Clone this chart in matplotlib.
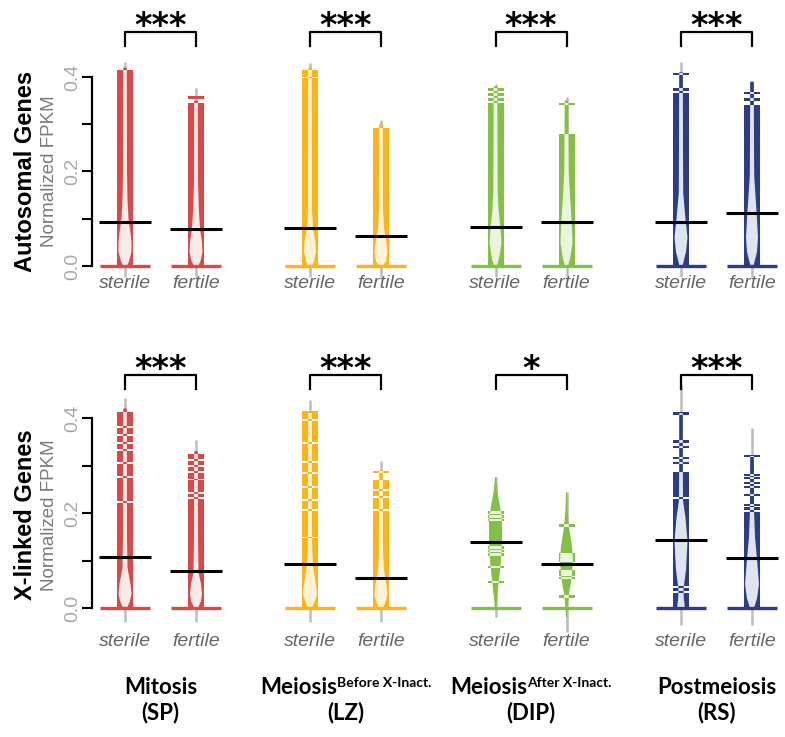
import matplotlib.pyplot as plt
from matplotlib.patches import Polygon, Rectangle
from matplotlib.path import Path

W, H = 785, 737

stage_names = ["Mitosis", "Meiosis", "Meiosis", "Postmeiosis"]
stage_sup = ["", "Before X-Inact.", "After X-Inact.", ""]
stage_cells = ["(SP)", "(LZ)", "(DIP)", "(RS)"]
groups = ["sterile", "fertile"]
row_titles = ["Autosomal Genes", "X-linked Genes"]
stars = [["***", "***", "***", "***"], ["***", "***", "*", "***"]]

bean_colors = ["#d84a4a", "#fbb518", "#86bf48", "#2d3d83"]
pale_colors = ["#fbeaea", "#fdf2d8", "#eaf4df", "#dfe4f1"]

# every list below: [row][stage] -> (sterile, fertile)
medians = [
    [(0.093, 0.078), (0.080, 0.063), (0.083, 0.094), (0.093, 0.112)],
    [(0.107, 0.078), (0.093, 0.063), (0.139, 0.093), (0.143, 0.105)],
]

whisker = [
    [((-0.023, 0.432), (-0.023, 0.377)), ((-0.023, 0.430), (-0.023, 0.309)),
     ((-0.023, 0.385), (-0.023, 0.358)), ((-0.023, 0.432), (-0.023, 0.387))],
    [((-0.030, 0.442), (-0.030, 0.354)), ((-0.030, 0.438), (-0.030, 0.310)),
     ((-0.019, 0.276), (-0.050, 0.244)), ((-0.035, 0.470), (-0.035, 0.379))],
]

strip_top = [
    [(0.415, 0.345), (0.414, 0.292), (0.345, 0.280), (0.377, 0.340)],
    [(0.413, 0.324), (0.414, 0.270), (0.0, 0.0), (0.286, 0.202)],
]

strip_gaps = [
    [([], []), ([0.3985], []), ([], []), ([0.368], [])],
    [([0.223, 0.276, 0.305, 0.333, 0.347, 0.364, 0.381],
      [0.232, 0.242, 0.270, 0.286, 0.299, 0.312]),
     ([0.149, 0.206, 0.227, 0.255, 0.284, 0.307, 0.347, 0.396],
      [0.206, 0.234, 0.248]),
     ([], []),
     ([0.034, 0.044, 0.232], [])],
]

bean_lines = [
    [([], [0.357]), ([], []), ([0.352, 0.363, 0.373], [0.343]), ([0.406], [0.353, 0.366])],
    [([], []), ([], [0.286]),
     ([0.201, 0.193, 0.185, 0.128, 0.120, 0.112, 0.086, 0.055],
      [0.173, 0.113, 0.106, 0.100, 0.077, 0.070, 0.063, 0.024]),
     ([0.410, 0.350, 0.339, 0.316, 0.305],
      [0.320, 0.280, 0.274, 0.263, 0.255, 0.238, 0.217, 0.210])],
]

# density outline: (value, half width in px)
density = [
    [([(0, 2), (0.01, 4), (0.03, 6.5), (0.05, 6.5), (0.07, 5.5), (0.10, 3.5), (0.14, 2.5), (0.20, 2), (0.42, 1.8)],
      [(0, 2), (0.01, 4.5), (0.03, 6.5), (0.05, 6), (0.08, 4), (0.12, 2.8), (0.18, 2), (0.35, 1.8)]),
     ([(0, 2), (0.01, 4), (0.03, 6), (0.05, 5.5), (0.08, 3), (0.12, 2), (0.42, 1.8)],
      [(0, 2), (0.01, 5), (0.03, 6.5), (0.05, 5.5), (0.08, 3), (0.12, 2), (0.30, 1.8)]),
     ([(0, 1.5), (0.02, 4), (0.05, 6), (0.08, 5), (0.12, 3), (0.16, 2.2), (0.25, 2), (0.38, 1.8)],
      [(0, 1.5), (0.02, 4), (0.05, 6), (0.10, 5), (0.15, 3.5), (0.20, 2.2), (0.28, 2), (0.35, 1.8)]),
     ([(0, 1.5), (0.03, 5), (0.06, 6.5), (0.10, 4.5), (0.155, 2.2), (0.25, 2), (0.41, 1.8)],
      [(0, 1.5), (0.03, 5), (0.06, 6), (0.10, 5), (0.19, 2.2), (0.25, 2), (0.39, 1.8)])],
    [([(0, 2), (0.015, 5), (0.03, 6.5), (0.05, 5.5), (0.085, 2.5), (0.15, 2), (0.42, 1.8)],
      [(0, 2), (0.015, 5), (0.03, 6), (0.05, 5), (0.075, 2.5), (0.15, 2), (0.33, 1.8)]),
     ([(0, 2), (0.015, 5), (0.03, 7), (0.05, 6), (0.08, 3.5), (0.12, 2.3), (0.16, 2), (0.41, 1.8)],
      [(0, 2), (0.015, 5), (0.03, 6.5), (0.05, 5.5), (0.08, 3), (0.12, 2), (0.29, 1.8)]),
     ([(-0.005, 0.5), (0.02, 1.5), (0.06, 3.5), (0.10, 5.5), (0.14, 6.5), (0.19, 6.5), (0.22, 4), (0.25, 1.5), (0.276, 0.5)],
      [(-0.02, 0.5), (0.0, 1), (0.03, 2.5), (0.06, 5), (0.10, 6.5), (0.13, 5.5), (0.17, 2.5), (0.21, 1), (0.244, 0.5)]),
     ([(0, 4), (0.02, 2.8), (0.04, 2.5), (0.08, 5), (0.14, 6.5), (0.19, 4.5), (0.227, 2), (0.30, 1.8), (0.41, 1.8)],
      [(0, 2), (0.02, 5), (0.05, 7), (0.09, 5.5), (0.15, 3), (0.206, 2), (0.32, 1.8)])],
]

row_zero = [266, 608]      # pixel row of value 0
row_scale = [472.5, 475]   # pixels per unit
row_span = [(10, 300), (350, 640)]
col_center = [160.5, 345.5, 531, 716.5]
bean_dx = 35.5
strip_hw = 8
gap_h = 0.0015
line_h = 0.0028


def draw_bean(ax, x, color, pale, top, gaps, lines, prof, rng, med):
    ax.vlines(x, rng[0], rng[1], color="#bdbdbd", lw=1.8, zorder=1)
    outline = [(x - w, y) for y, w in prof] + [(x + w, y) for y, w in prof[::-1]]
    ax.add_patch(Polygon(outline, closed=True, fc=color, ec="none", zorder=2))

    segs = []
    if top > 0:
        lo = 0.0
        for g in sorted(gaps):
            segs.append((lo, g - gap_h))
            lo = g + gap_h
        segs.append((lo, top))
    for v in lines:
        segs.append((v - line_h, v + line_h))

    paths = []
    for lo, hi in segs:
        ax.add_patch(Rectangle((x - strip_hw, lo), 2 * strip_hw, hi - lo,
                               fc=color, ec="none", zorder=3))
        paths.append(Path([(x - strip_hw, lo), (x + strip_hw, lo), (x + strip_hw, hi),
                           (x - strip_hw, hi), (x - strip_hw, lo)], closed=True))
    if paths:
        inner = Polygon(outline, closed=True, fc=pale, ec="none", zorder=4)
        ax.add_patch(inner)
        inner.set_clip_path(Path.make_compound_path(*paths), ax.transData)

    ax.hlines(0, x - 25, x + 25, color=color, lw=2.4, zorder=5)
    ax.hlines(med, x - 26, x + 26, color="black", lw=2.2, zorder=6)


fig = plt.figure(figsize=(W / 100, H / 100), dpi=100)

for r in range(2):
    top_px, bot_px = row_span[r]
    ax = fig.add_axes([92 / W, 1 - bot_px / H, (W - 92) / W, (bot_px - top_px) / H])
    ax.set_xlim(92, W)
    ax.set_ylim((row_zero[r] - bot_px) / row_scale[r], (row_zero[r] - top_px) / row_scale[r])
    for side in ["top", "right", "bottom"]:
        ax.spines[side].set_visible(False)
    ax.spines["left"].set_bounds(0, 0.4)
    ax.spines["left"].set_linewidth(1.6)
    ax.set_xticks([])
    ax.set_yticks([0, 0.1, 0.2, 0.3, 0.4])
    ax.set_yticklabels(["0.0", "", "0.2", "", "0.4"], rotation=90, va="center",
                       fontsize=14, color="#a8a8a8", family="Liberation Sans")
    ax.tick_params(axis="y", direction="out", length=7, width=1.5, pad=1)

    for s in range(4):
        xs = [col_center[s] - bean_dx, col_center[s] + bean_dx]
        for g in range(2):
            draw_bean(ax, xs[g], bean_colors[s], pale_colors[s],
                      strip_top[r][s][g], strip_gaps[r][s][g], bean_lines[r][s][g],
                      density[r][s][g], whisker[r][s][g], medians[r][s][g])
            ax.text(xs[g], (row_zero[r] - [284, 642][r]) / row_scale[r], groups[g],
                    ha="center", va="center", fontsize=14, style="italic",
                    color="#666666", family="Liberation Sans")
        br_top = [0.495, 0.490][r]
        br_end = [0.466, 0.461][r]
        ax.plot([xs[0], xs[0], xs[1], xs[1]], [br_end, br_top, br_top, br_end],
                color="black", lw=1.6, clip_on=False)
        ax.text(col_center[s], [0.486, 0.482][r], stars[r][s], ha="center",
                va="baseline", fontsize=24, fontweight="bold", family="DejaVu Sans")

    mid_px = [171, 515][r]
    fig.text(26 / W, 1 - mid_px / H, row_titles[r], rotation=90, ha="center", va="center",
             fontsize=17, fontweight="bold", family="Liberation Sans")
    fig.text(50 / W, 1 - mid_px / H, "Normalized FPKM", rotation=90, ha="center",
             va="center", fontsize=13.5, color="#7a7a7a", family="Liberation Sans")

# stage titles, with a superscript for the meiosis stages
title_font = dict(family="Lato", fontweight="bold", color="black")
for s in range(4):
    yname = 1 - 688 / H
    t1 = fig.text(col_center[s] / W, yname, stage_names[s], ha="center", va="center",
                  fontsize=16, **title_font)
    fig.text(col_center[s] / W, 1 - 713 / H, stage_cells[s], ha="center", va="center",
             fontsize=16, **title_font)
    if stage_sup[s]:
        t2 = fig.text(0, 1 - 683 / H, stage_sup[s], ha="left", va="center",
                      fontsize=10, **title_font)
        fig.canvas.draw()
        w1 = t1.get_window_extent().width
        w2 = t2.get_window_extent().width
        left = col_center[s] - (w1 + w2) / 2
        t1.set_ha("left")
        t1.set_x(left / W)
        t2.set_x((left + w1) / W)

fig.savefig("out.png", dpi=100)
